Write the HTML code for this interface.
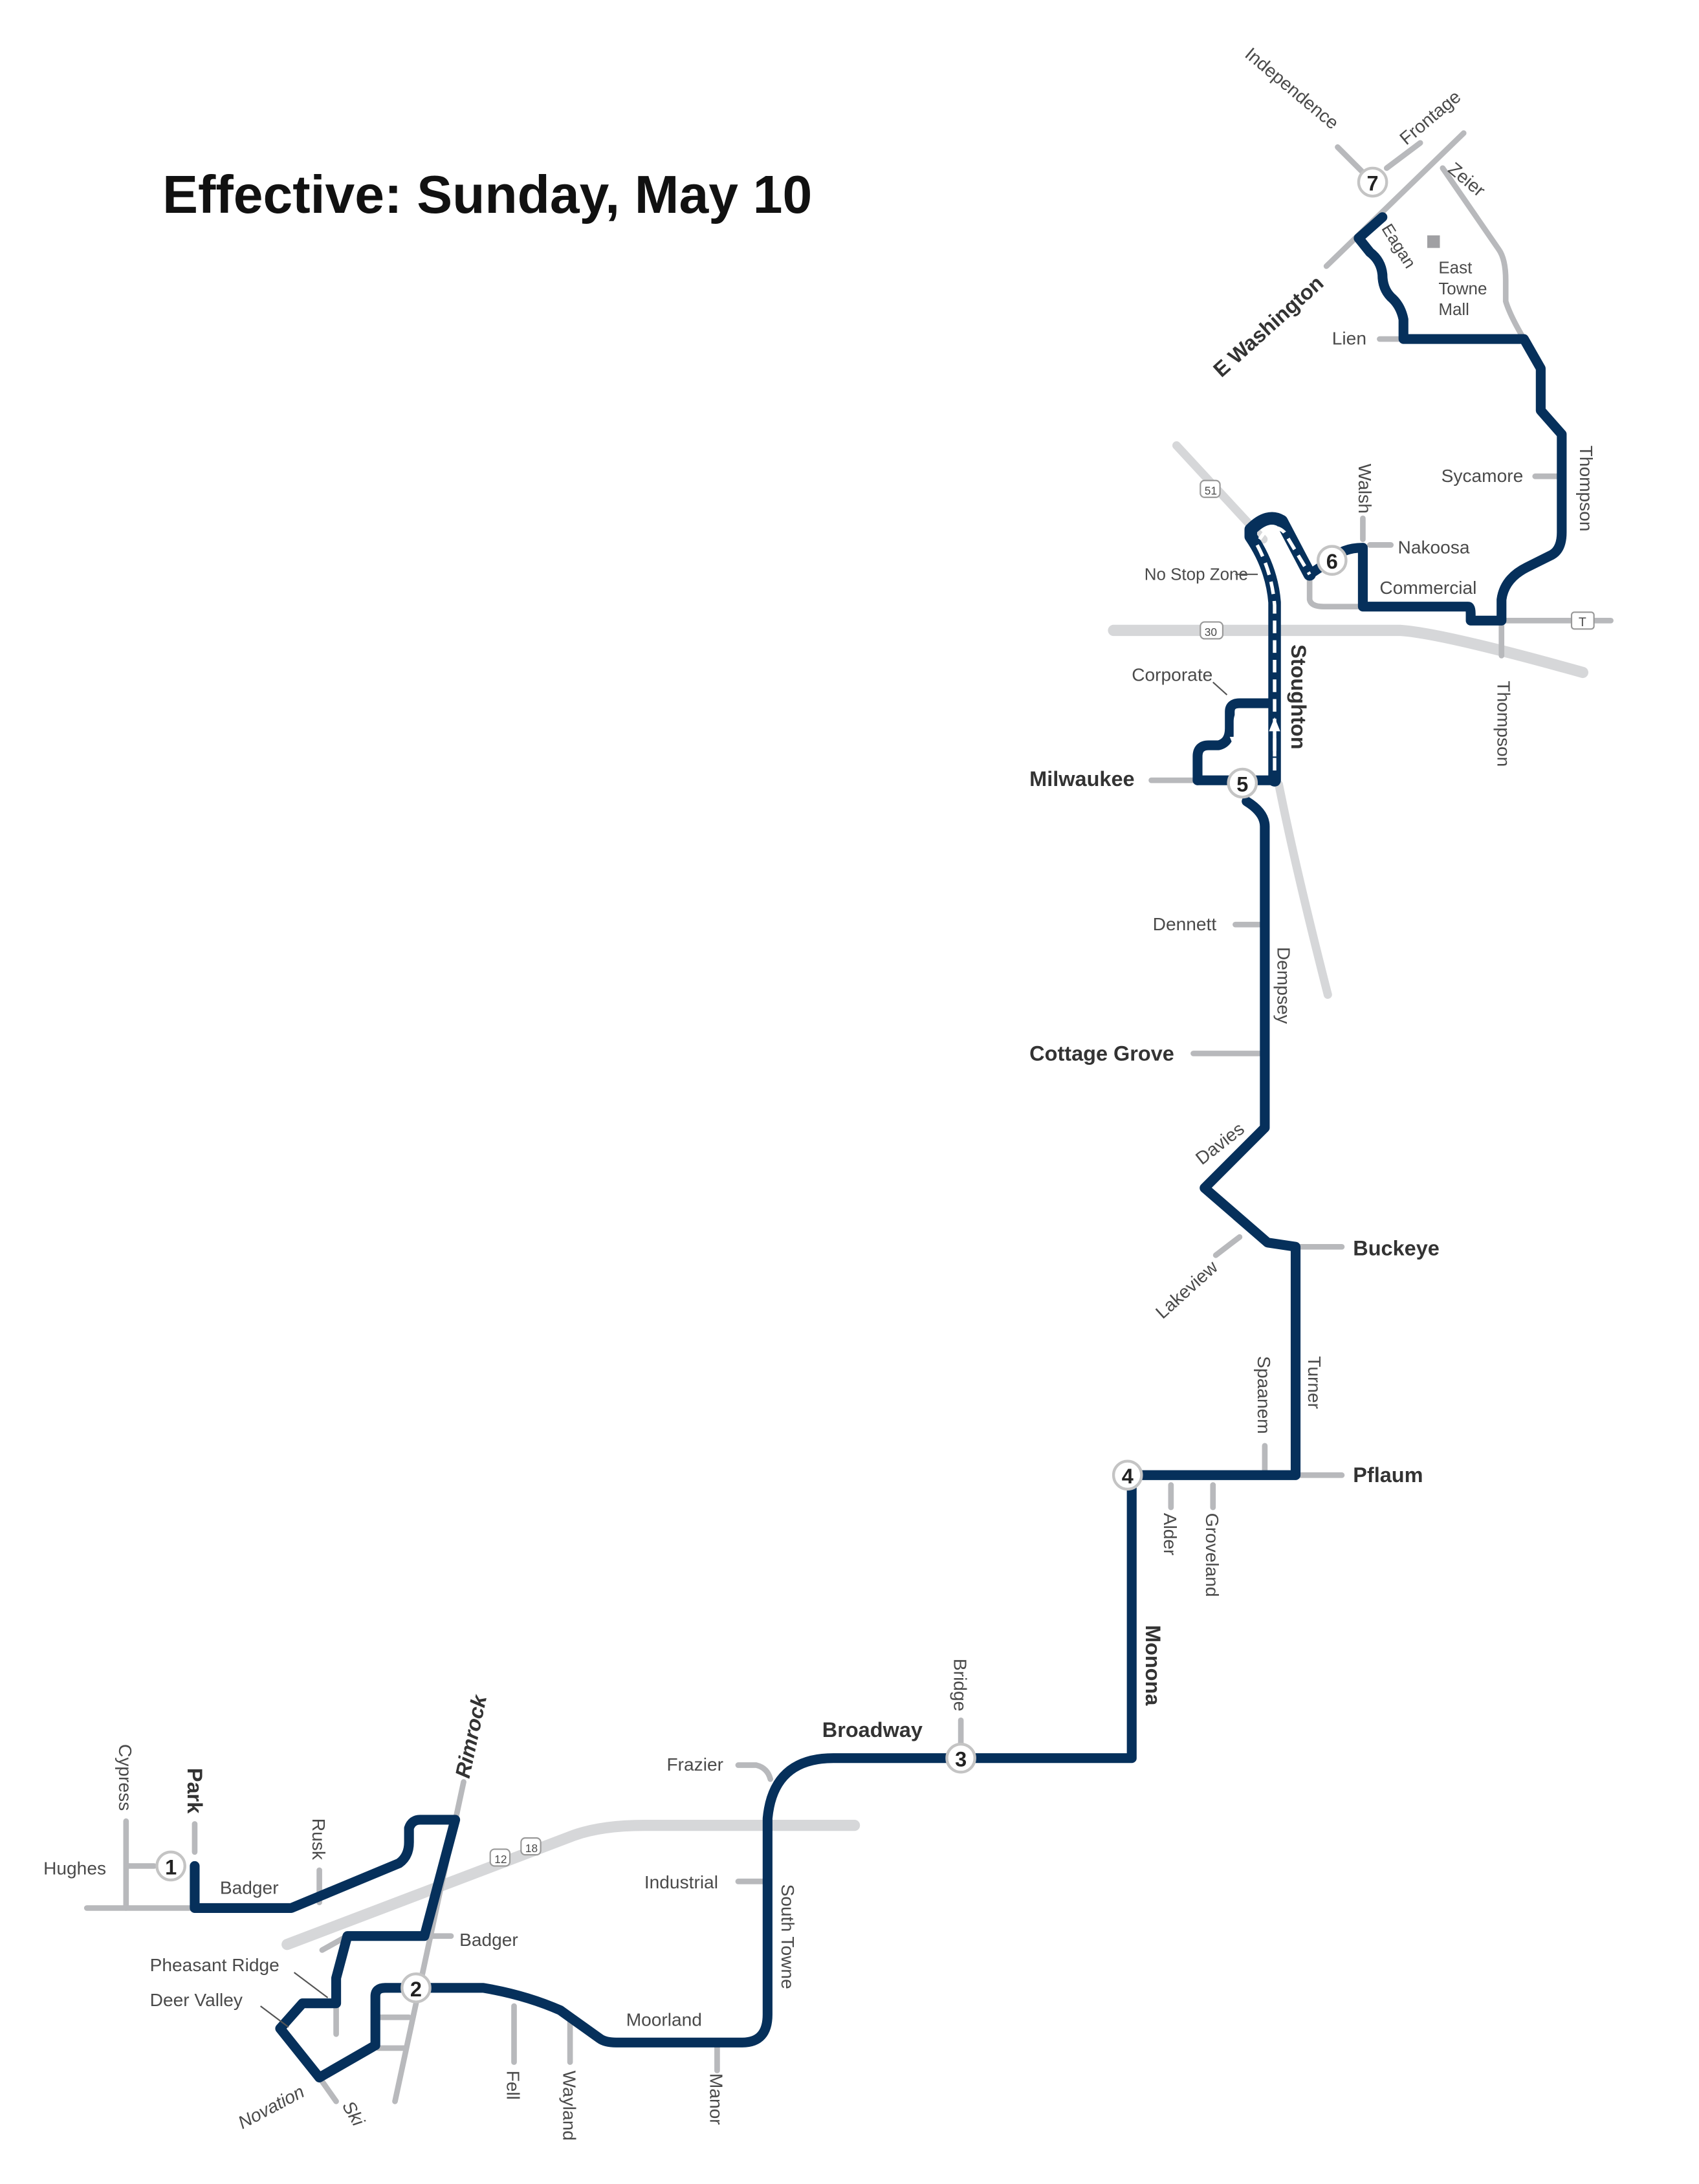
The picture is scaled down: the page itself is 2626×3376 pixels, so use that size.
<!DOCTYPE html>
<html><head><meta charset="utf-8"><style>
html,body{margin:0;padding:0;background:#fff;}
svg{display:block;}
text{font-family:"Liberation Sans",sans-serif;fill:#4a4a4a;font-size:13px;}
.b{font-weight:bold;fill:#333;font-size:15px;}
.st{fill:#fff;stroke:#c4c4c4;stroke-width:2;}
.sn{font-weight:bold;fill:#222;font-size:15px;text-anchor:middle;}
</style></head><body>
<svg width="2626" height="3376" viewBox="0 0 1213 1559" preserveAspectRatio="none">
<text x="116" y="152" style="font-size:38px;font-weight:bold;fill:#111">Effective: Sunday, May 10</text>

<g fill="none" stroke="#d6d7d9" stroke-linecap="round">
 <path d="M205,1388 L410,1310 Q430,1303 460,1303 L610,1303" stroke-width="8"/>
 <path d="M795,450 L1000,450 Q1030,452 1130,480" stroke-width="8"/>
 <path d="M840,318 L902,385" stroke-width="6"/>
 <path d="M913,560 Q925,620 948,710" stroke-width="6"/>
</g>
<g fill="none" stroke="#b8b9bc" stroke-width="4" stroke-linecap="round" stroke-linejoin="round">
 <path d="M62,1362 L139,1362"/><path d="M90,1300 L90,1362"/><path d="M90,1332 L110,1332"/>
 <path d="M139,1302 L139,1322"/><path d="M228,1335 L228,1358"/>
 <path d="M331,1272 L282,1500"/>
 <path d="M230,1392 L248,1382 L322,1382"/>
 <path d="M240,1432 L240,1452"/><path d="M270,1440 L292,1440"/><path d="M270,1462 L290,1462"/>
 <path d="M228,1483 L240,1500"/>
 <path d="M367,1432 L367,1472"/><path d="M407,1440 L407,1472"/><path d="M512,1458 L512,1478"/>
 <path d="M527,1260 L540,1260 Q548,1262 550,1270"/><path d="M527,1343 L548,1343"/>
 <path d="M686,1228 L686,1248"/>
 <path d="M836,1060 L836,1076"/><path d="M866,1060 L866,1076"/><path d="M903,1032 L903,1050"/>
 <path d="M925,1053 L958,1053"/><path d="M925,890 L958,890"/>
 <path d="M868,896 L885,883"/>
 <path d="M852,752 L900,752"/><path d="M882,660 L900,660"/><path d="M822,557 L855,557"/>
 <path d="M935,405 L935,428 Q936,433 945,433 L973,433"/>
 <path d="M1072,443 L1150,443"/><path d="M1072,443 L1072,468"/>
 <path d="M973,370 L973,385"/><path d="M978,389 L993,389"/><path d="M1096,340 L1115,340"/>
 <path d="M985,242 L1002,242"/>
 <path d="M947,190 L1045,95"/>
 <path d="M955,105 L972,122"/><path d="M990,120 L1014,102"/>
 <path d="M1030,120 L1070,178 Q1075,185 1075,200 L1075,215 Q1078,225 1088,242"/>
</g>
<rect x="1019" y="168" width="9" height="9" fill="#a0a0a3"/>

<g fill="none" stroke="#06305b" stroke-width="7" stroke-linejoin="round" stroke-linecap="round">
 <path d="M139,1332 L139,1362 L208,1362 L285,1330 Q292,1325 292,1315 L292,1305 Q294,1299 300,1299 L325,1299 L303,1382 L248,1382 L240,1412 L240,1430 L216,1430 L200,1448 L228,1483 L268,1460 L268,1425 Q268,1419 275,1419 L345,1419 Q375,1424 400,1435 L428,1455 Q432,1458 440,1458 L530,1458 Q548,1458 548,1438 L548,1298 Q552,1255 595,1255 L808,1255 L808,1053 L925,1053 L925,890 L905,887 L860,848 L903,805 L903,590 Q903,580 890,572"/>
 <path d="M855,557 L855,540 Q855,532 863,532 L870,532 Q878,530 878,520 L878,508 Q878,502 885,502 L910,502"/>
 <path d="M855,557 L910,557 L973,433" stroke="none"/>
 <path d="M855,557 L910,557"/>
 <path d="M910,557 L910,430 Q908,405 893,383 L893,378 Q905,366 915,372 L935,410" stroke-width="9"/>
 <path d="M935,410 L950,400 Q958,391 973,391 L973,433 L1048,433 Q1050,433 1050,438 L1050,443 L1072,443 L1072,428 Q1074,413 1090,405 L1108,396 Q1115,392 1115,380 L1115,310 L1100,293 L1100,263 L1088,242 L1002,242 L1002,228 Q1000,218 993,212 Q987,206 987,196 Q986,186 978,180 L970,170 L987,155"/>
</g>
<g fill="none" stroke="#fff" stroke-width="2.5">
 <path d="M910,550 L910,432 Q908,408 897,388 L905,377 Q912,375 917,380 L935,410" stroke-dasharray="9,5"/>
 <path d="M905,508 L885,508 Q882,510 882,515 L882,527"/>
 <path d="M910,540 L910,522"/>
</g>
<path d="M878,526 L882,536 L886,526 Z M906,522 L910,512 L914,522 Z" fill="#fff"/>

<g>
 <circle class="st" cx="122" cy="1332" r="10"/><text class="sn" x="122" y="1338">1</text>
 <circle class="st" cx="297" cy="1419" r="10"/><text class="sn" x="297" y="1425">2</text>
 <circle class="st" cx="686" cy="1255" r="10"/><text class="sn" x="686" y="1261">3</text>
 <circle class="st" cx="805" cy="1053" r="10"/><text class="sn" x="805" y="1059">4</text>
 <circle class="st" cx="887" cy="559" r="10"/><text class="sn" x="887" y="565">5</text>
 <circle class="st" cx="951" cy="400" r="10"/><text class="sn" x="951" y="406">6</text>
 <circle class="st" cx="980" cy="130" r="10"/><text class="sn" x="980" y="136">7</text>
</g>

<g>
 <rect x="350" y="1320" width="14" height="12" rx="3" fill="#fff" stroke="#999"/><text x="353" y="1330" style="font-size:8px">12</text>
 <rect x="372" y="1312" width="14" height="12" rx="3" fill="#fff" stroke="#999"/><text x="375" y="1322" style="font-size:8px">18</text>
 <rect x="857" y="343" width="14" height="12" rx="3" fill="#fff" stroke="#999"/><text x="860" y="353" style="font-size:8px">51</text>
 <rect x="857" y="444" width="16" height="12" rx="3" fill="#fff" stroke="#999"/><text x="860" y="454" style="font-size:8px">30</text>
 <rect x="1122" y="437" width="16" height="12" rx="2" fill="#fff" stroke="#999"/><text x="1127" y="447" style="font-size:9px">T</text>
</g>

<g>
 <text x="31" y="1338">Hughes</text>
 <text x="85" y="1245" transform="rotate(90 85 1245)">Cypress</text>
 <text class="b" x="134" y="1262" transform="rotate(90 134 1262)">Park</text>
 <text x="157" y="1352">Badger</text>
 <text x="223" y="1298" transform="rotate(90 223 1298)">Rusk</text>
 <text class="b" x="335" y="1270" transform="rotate(-78 335 1270)" style="font-style:italic">Rimrock</text>
 <text x="328" y="1389">Badger</text>
 <text x="107" y="1407">Pheasant Ridge</text>
 <text x="107" y="1432">Deer Valley</text>
 <path d="M210,1408 L234,1426 M186,1432 L206,1447" stroke="#555" stroke-width="1"/>
 <text x="173" y="1520" transform="rotate(-28 173 1520)" style="font-style:italic">Novation</text>
 <text x="244" y="1503" transform="rotate(60 244 1503)" style="font-style:italic">Ski</text>
 <text x="362" y="1478" transform="rotate(90 362 1478)">Fell</text>
 <text x="402" y="1478" transform="rotate(90 402 1478)">Wayland</text>
 <text x="507" y="1480" transform="rotate(90 507 1480)">Manor</text>
 <text x="447" y="1446">Moorland</text>
 <text x="476" y="1264">Frazier</text>
 <text x="460" y="1348">Industrial</text>
 <text x="558" y="1345" transform="rotate(90 558 1345)">South Towne</text>
 <text class="b" x="587" y="1240">Broadway</text>
 <text x="681" y="1184" transform="rotate(90 681 1184)">Bridge</text>
 <text class="b" x="818" y="1160" transform="rotate(90 818 1160)">Monona</text>
 <text x="831" y="1080" transform="rotate(90 831 1080)">Alder</text>
 <text x="861" y="1080" transform="rotate(90 861 1080)">Groveland</text>
 <text x="898" y="968" transform="rotate(90 898 968)">Spaanem</text>
 <text x="934" y="968" transform="rotate(90 934 968)">Turner</text>
 <text class="b" x="966" y="1058">Pflaum</text>
 <text class="b" x="966" y="896">Buckeye</text>
 <text x="830" y="942" transform="rotate(-42 830 942)">Lakeview</text>
 <text x="858" y="832" transform="rotate(-38 858 832)">Davies</text>
 <text class="b" x="735" y="757">Cottage Grove</text>
 <text x="823" y="664">Dennett</text>
 <text x="912" y="676" transform="rotate(90 912 676)">Dempsey</text>
 <text class="b" x="735" y="561">Milwaukee</text>
 <text class="b" x="922" y="460" transform="rotate(90 922 460)">Stoughton</text>
 <text x="808" y="486">Corporate</text>
 <text x="817" y="414" style="font-size:12px">No Stop Zone</text>
 <path d="M882,410 L898,410 M866,487 L876,496" stroke="#555" stroke-width="1"/>
 <text x="985" y="424">Commercial</text>
 <text x="998" y="395">Nakoosa</text>
 <text x="970" y="331" transform="rotate(90 970 331)">Walsh</text>
 <text x="1029" y="344">Sycamore</text>
 <text x="1128" y="318" transform="rotate(90 1128 318)">Thompson</text>
 <text x="1069" y="486" transform="rotate(90 1069 486)">Thompson</text>
 <text x="951" y="246">Lien</text>
 <text x="1027" y="195" style="font-size:12px">East</text>
 <text x="1027" y="210" style="font-size:12px">Towne</text>
 <text x="1027" y="225" style="font-size:12px">Mall</text>
 <text x="986" y="163" transform="rotate(58 986 163)" style="font-size:12px">Eagan</text>
 <text class="b" x="872" y="270" transform="rotate(-42 872 270)">E Washington</text>
 <text x="888" y="40" transform="rotate(40 888 40)">Independence</text>
 <text x="1004" y="104" transform="rotate(-40 1004 104)">Frontage</text>
 <text x="1033" y="122" transform="rotate(40 1033 122)">Zeier</text>
</g>
</svg>
</body></html>
